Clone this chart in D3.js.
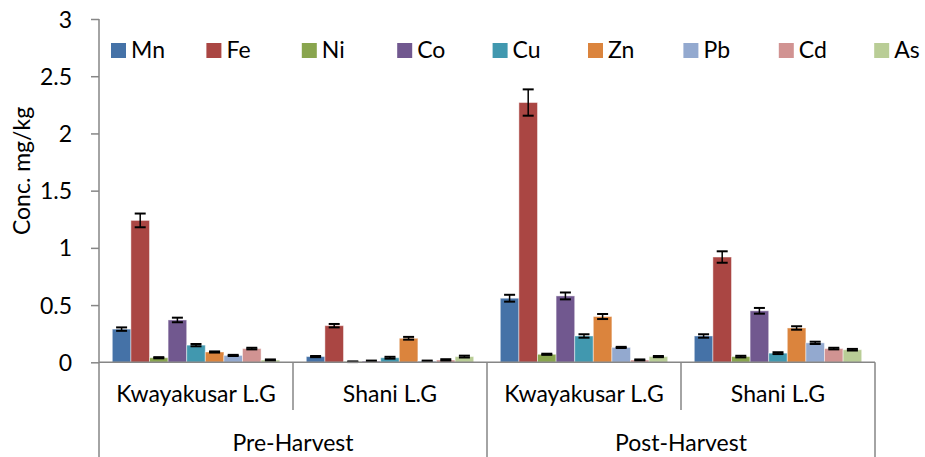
<!DOCTYPE html>
<html>
<head>
<meta charset="utf-8">
<script src="https://cdn.jsdelivr.net/npm/d3@7"></script>
<style>
  body { margin: 0; background: #fff; }
  text { font-family: Lato, "Open Sans", sans-serif; fill: #000; }
</style>
</head>
<body>
<script>
// data
var metals = ["Mn", "Fe", "Ni", "Co", "Cu", "Zn", "Pb", "Cd", "As"];
var sites = ["Kwayakusar L.G", "Shani L.G", "Kwayakusar L.G", "Shani L.G"];
var seasons = ["Pre-Harvest", "Post-Harvest"];
var yTicks = [0, 0.5, 1, 1.5, 2, 2.5, 3];

var preKwaya   = [0.29, 1.24, 0.04, 0.37, 0.15, 0.09, 0.06, 0.12, 0.02];
var preKwayaErr = [0.015, 0.06, 0.005, 0.02, 0.01, 0.005, 0.005, 0.007, 0.005];
var preShani   = [0.05, 0.32, 0.005, 0.01, 0.04, 0.21, 0.01, 0.02, 0.05];
var preShaniErr = [0.005, 0.015, 0.003, 0.005, 0.008, 0.012, 0.005, 0.007, 0.008];
var postKwaya  = [0.56, 2.27, 0.07, 0.58, 0.23, 0.40, 0.13, 0.02, 0.05];
var postKwayaErr = [0.03, 0.115, 0.005, 0.03, 0.015, 0.022, 0.005, 0.005, 0.005];
var postShani  = [0.23, 0.92, 0.05, 0.45, 0.08, 0.30, 0.17, 0.12, 0.11];
var postShaniErr = [0.015, 0.05, 0.007, 0.025, 0.008, 0.015, 0.01, 0.007, 0.007];

var colors = ["#4572A7", "#AA4643", "#89A54E", "#71588F", "#4198AF",
              "#DB843D", "#93A9CF", "#D19392", "#B9CD96"];

var groupValues = [preKwaya, preShani, postKwaya, postShani];
var groupErrors = [preKwayaErr, preShaniErr, postKwayaErr, postShaniErr];

var width = 925, height = 457;
var axisGrey = "#868686";

var svg = d3.select("body").append("svg")
  .attr("width", width)
  .attr("height", height);

// scales
var yScale = d3.scaleLinear().domain([0, 3]).range([362.3, 19]);

var x0 = d3.scaleBand()
  .domain(d3.range(sites.length))
  .range([99, 875])
  .padding(0);

var x1 = d3.scaleBand()
  .domain(metals)
  .range([0, x0.bandwidth()])
  .paddingInner(0)
  .paddingOuter(0.715);

var color = d3.scaleOrdinal().domain(metals).range(colors);

// flatten into records
var data = [];
groupValues.forEach(function(vals, gi) {
  vals.forEach(function(v, mi) {
    data.push({group: gi, metal: metals[mi], value: v, err: groupErrors[gi][mi]});
  });
});

// bars
svg.append("g").selectAll("rect")
  .data(data)
  .enter().append("rect")
    .attr("x", function(d) { return x0(d.group) + x1(d.metal); })
    .attr("y", function(d) { return yScale(d.value); })
    .attr("width", x1.bandwidth())
    .attr("height", function(d) { return yScale(0) - yScale(d.value); })
    .attr("fill", function(d) { return color(d.metal); })
    .attr("stroke", "#fff")
    .attr("stroke-opacity", 0.45)
    .attr("stroke-width", 1);

// error bars
var capW = 11;
var eb = svg.append("g").selectAll("g")
  .data(data)
  .enter().append("g")
    .attr("stroke", "#000")
    .attr("stroke-width", 2);

eb.append("line")
  .attr("x1", function(d) { return x0(d.group) + x1(d.metal) + x1.bandwidth() / 2; })
  .attr("x2", function(d) { return x0(d.group) + x1(d.metal) + x1.bandwidth() / 2; })
  .attr("y1", function(d) { return yScale(d.value + d.err); })
  .attr("y2", function(d) { return yScale(d.value - d.err); })
  .attr("stroke-width", 1.5);

[1, -1].forEach(function(s) {
  eb.append("line")
    .attr("x1", function(d) { return x0(d.group) + x1(d.metal) + x1.bandwidth() / 2 - capW / 2; })
    .attr("x2", function(d) { return x0(d.group) + x1(d.metal) + x1.bandwidth() / 2 + capW / 2; })
    .attr("y1", function(d) { return yScale(d.value + s * d.err); })
    .attr("y2", function(d) { return yScale(d.value + s * d.err); });
});

// y axis
var yAxis = d3.axisLeft(yScale)
  .tickValues(yTicks)
  .tickFormat(function(d) { return d3.format("")(d); })
  .tickSize(8)
  .tickPadding(19);

var gy = svg.append("g")
  .attr("transform", "translate(99,0)")
  .call(yAxis);
gy.select(".domain").attr("stroke", axisGrey).attr("stroke-width", 1.5)
  .attr("d", "M0," + yScale(3) + "V" + yScale(0));
gy.selectAll(".tick line").attr("stroke", axisGrey).attr("stroke-width", 1.5);
gy.selectAll(".tick text")
  .style("font-family", "Lato, sans-serif")
  .style("font-size", "23px")
  .attr("fill", "#000")
  .attr("dy", "0.35em");

// y title
svg.append("text")
  .attr("transform", "translate(30,171) rotate(-90)")
  .attr("text-anchor", "middle")
  .style("font-size", "23px")
  .text("Conc. mg/kg");

// x axis (baseline plus category dividers)
var base = yScale(0);
svg.append("line")
  .attr("x1", 99).attr("x2", 875)
  .attr("y1", base).attr("y2", base)
  .attr("stroke", axisGrey).attr("stroke-width", 1.5);

var dividers = d3.range(sites.length + 1).map(function(i) {
  return i < sites.length ? x0(i) : x0.range()[1];
});
svg.append("g").selectAll("line")
  .data(dividers)
  .enter().append("line")
    .attr("x1", function(d) { return d; })
    .attr("x2", function(d) { return d; })
    .attr("y1", base)
    .attr("y2", function(d, i) { return i % 2 === 0 ? height : 410; })
    .attr("stroke", axisGrey)
    .attr("stroke-width", 1.5);

// site labels
svg.append("g").selectAll("text")
  .data(sites)
  .enter().append("text")
    .attr("x", function(d, i) { return x0(i) + x0.bandwidth() / 2; })
    .attr("y", 402)
    .attr("text-anchor", "middle")
    .style("font-size", "23px")
    .text(function(d) { return d; });

// season labels
svg.append("g").selectAll("text")
  .data(seasons)
  .enter().append("text")
    .attr("x", function(d, i) { return x0(i * 2) + x0.bandwidth(); })
    .attr("y", 451)
    .attr("text-anchor", "middle")
    .style("font-size", "23px")
    .text(function(d) { return d; });

// legend
var legend = svg.append("g").selectAll("g")
  .data(metals)
  .enter().append("g")
    .attr("transform", function(d, i) { return "translate(" + (111 + i * 95.4) + ",43)"; });

legend.append("rect")
  .attr("width", 15)
  .attr("height", 15)
  .attr("fill", function(d) { return color(d); });

legend.append("text")
  .attr("x", 20)
  .attr("y", 15)
  .style("font-size", "23px")
  .text(function(d) { return d; });
</script>
</body>
</html>
